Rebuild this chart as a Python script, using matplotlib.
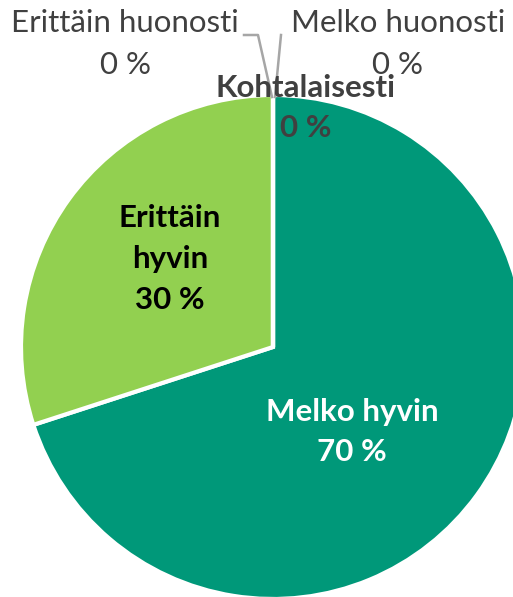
import matplotlib.pyplot as plt

# data
labels = ['Melko hyvin', 'Erittäin hyvin', 'Erittäin huonosti', 'Melko huonosti', 'Kohtalaisesti']
values = [70, 30, 0, 0, 0]
colors = ['#009879', '#92D050', '#C00000', '#FFC000', '#BFBFBF']

W, H = 513, 597
fig = plt.figure(figsize=(W / 100, H / 100), dpi=100)
ax = fig.add_axes([0, 0, 1, 1])

def py(y):
  # picture y (top down) -> axes y
  return H - y

cx, cy, r = 273, 347, 252
ax.pie(values, colors=colors, startangle=90, counterclock=False,
       center=(cx, py(cy)), radius=r, frame=True,
       wedgeprops=dict(edgecolor='white', linewidth=3))
ax.set_xlim(0, W)
ax.set_ylim(0, H)
ax.set_aspect('equal')
ax.axis('off')

font = 'Lato'
fs = 22.5
grey = '#404040'

def lab(i):
  return '%s\n%d %%' % (labels[i], values[i])

# zero slices with leader lines
ax.plot([244, 258, 272], [py(35), py(35), py(97)], color='#A6A6A6', lw=1.8)
ax.plot([281, 275], [py(35), py(97)], color='#A6A6A6', lw=1.8)
ax.text(125, py(44), lab(2), ha='center', va='center', fontsize=fs,
        family=font, color=grey, linespacing=1.6)
ax.text(398, py(44), lab(3), ha='center', va='center', fontsize=fs,
        family=font, color=grey, linespacing=1.6)
ax.text(306, py(108), lab(4), ha='center', va='center', fontsize=fs,
        family=font, color=grey, fontweight='bold', linespacing=1.55)

ax.text(170, py(259), 'Erittäin\nhyvin\n%d %%' % values[1], ha='center', va='center',
        fontsize=fs, family=font, color='black', fontweight='bold', linespacing=1.55)
ax.text(352, py(432), lab(0), ha='center', va='center', fontsize=fs,
        family=font, color='white', fontweight='bold', linespacing=1.55)

fig.savefig('out.png', dpi=100)
